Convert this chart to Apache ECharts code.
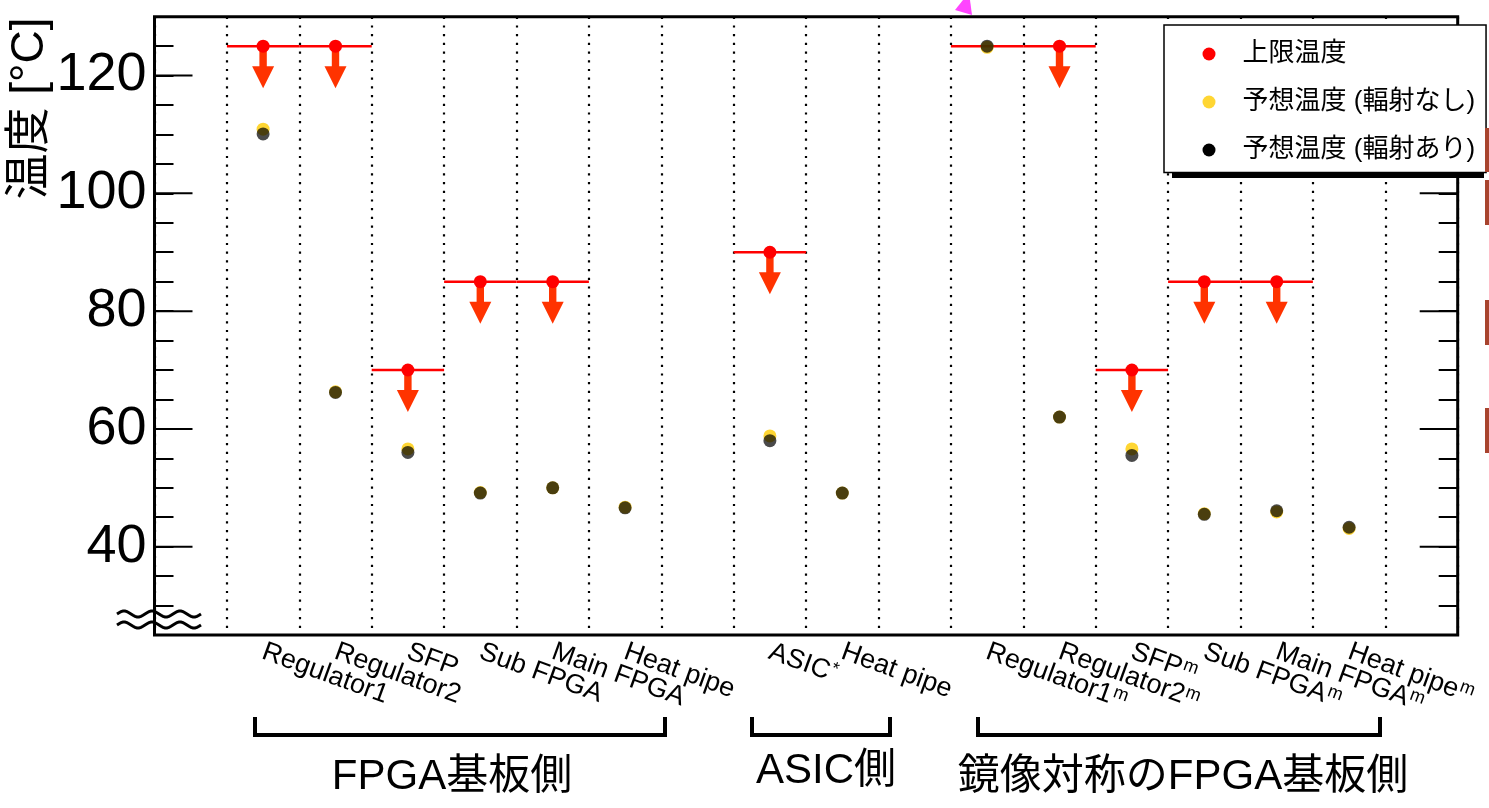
<!DOCTYPE html>
<html>
<head>
<meta charset="utf-8">
<script src="https://cdn.jsdelivr.net/npm/echarts@6/dist/echarts.min.js"></script>
<style>
html,body{margin:0;padding:0;background:#fff;}
#chart{width:1489px;height:808px;}
</style>
</head>
<body>
<div id="chart"></div>
<script>
// ---------------- data ----------------
const categories = ['', 'Regulator1', 'Regulator2', 'SFP', 'Sub FPGA', 'Main FPGA', 'Heat pipe', '',
  'ASIC', 'Heat pipe', '',
  'Regulator1', 'Regulator2', 'SFP', 'Sub FPGA', 'Main FPGA', 'Heat pipe', ''];
const superscripts = ['', '', '', '', '', '', '', '', '*', '', '', 'm', 'm', 'm', 'm', 'm', 'm', ''];
const limitSlots = [1, 2, 3, 4, 5, 8, 11, 12, 13, 14, 15];
const limitValues = [125, 125, 70, 85, 85, 90, 125, 125, 70, 85, 85];
const limitArrow = [1, 1, 1, 1, 1, 1, 0, 1, 1, 1, 1];
const noRadiationValues = [null, 110.9, 66.3, 56.6, 49.2, 50.0, 46.7, null, 58.8, 49.1, null, 124.8, 62.0, 56.6, 45.6, 45.9, 43.1, null];
const radiationValues = [null, 110.1, 66.2, 56.0, 49.1, 50.0, 46.6, null, 58.0, 49.1, null, 125.0, 62.0, 55.5, 45.5, 46.1, 43.3, null];
const yMajorTicks = [40, 60, 80, 100, 120];
const seriesNames = ['上限温度', '予想温度 (輻射なし)', '予想温度 (輻射あり)'];
const groupLabels = ['FPGA基板側', 'ASIC側', '鏡像対称のFPGA基板側'];
const yTitle = '温度 [°C]';

// ---------------- chart ----------------
const FONT = '"Liberation Sans", "Noto Sans CJK JP", sans-serif';
const chart = echarts.init(document.getElementById('chart'), null, {renderer: 'canvas'});

function toSeries(arr) { return arr.map(v => (v === null ? '-' : v)); }

function wave(x0, y0) {
  const pts = [];
  for (let k = 0; k <= 84; k += 2) {
    pts.push([x0 + k, y0 - 3 * Math.sin(k / 28 * 2 * Math.PI)]);
  }
  return pts;
}

const option = {
  animation: false,
  backgroundColor: '#fff',
  grid: {left: 154.5, top: 16.7, right: 31.3, bottom: 173, show: true, borderColor: '#000', borderWidth: 3, backgroundColor: 'transparent'},
  xAxis: {
    type: 'category',
    data: categories.map((c, i) => String(i)),
    boundaryGap: true,
    axisLine: {show: false},
    axisTick: {show: false},
    splitLine: {show: true, interval: 0, lineStyle: {color: '#000', width: 2.2, type: [2.2, 6.5]}},
    axisLabel: {
      interval: 0,
      rotate: -20,
      margin: 16,
      color: '#000',
      formatter: function (v) {
        const i = Number(v);
        const name = categories[i];
        if (!name) return '';
        const sup = superscripts[i];
        return '{n|' + name + '}' + (sup ? '{s|' + sup + '}' : '');
      },
      rich: {
        n: {fontSize: 27, fontFamily: FONT, color: '#000'},
        s: {fontSize: 18, fontFamily: FONT, color: '#000', verticalAlign: 'top', padding: [0, 0, 10, 1]}
      }
    }
  },
  yAxis: [{
    type: 'value', min: 25, max: 130, interval: 5, position: 'left',
    axisLine: {show: false},
    splitLine: {show: false},
    axisTick: {show: true, inside: true, length: 19, lineStyle: {color: '#000', width: 2}},
    axisLabel: {
      color: '#000', fontSize: 54, fontFamily: FONT, margin: 8,
      formatter: v => (yMajorTicks.indexOf(v) >= 0 ? String(v) : '')
    }
  }, {
    type: 'value', min: 25, max: 130, interval: 5, position: 'right',
    axisLine: {show: false},
    splitLine: {show: false},
    axisTick: {show: true, inside: true, length: 19, lineStyle: {color: '#000', width: 2}},
    axisLabel: {show: false}
  }],
  legend: {
    orient: 'vertical',
    left: 1164, top: 25,
    padding: [16, 11, 9.5, 38.5],
    itemGap: 22,
    itemWidth: 13, itemHeight: 13,
    backgroundColor: '#fff',
    borderColor: '#000', borderWidth: 1.5,
    textStyle: {fontSize: 26, lineHeight: 25, fontFamily: FONT, color: '#000', padding: [0, 0, 0, 22]},
    data: [
      {name: seriesNames[0], icon: 'circle', itemStyle: {color: '#ff0000'}},
      {name: seriesNames[1], icon: 'circle', itemStyle: {color: '#ffcc00'}},
      {name: seriesNames[2], icon: 'circle', itemStyle: {color: '#000', opacity: 1}}
    ],
    z: 20
  },
  series: [
    {
      name: seriesNames[0],
      type: 'custom',
      itemStyle: {color: '#ff0000'},
      encode: {x: 0, y: 1},
      data: limitSlots.map((s, i) => [s, limitValues[i], limitArrow[i]]),
      z: 3,
      renderItem: function (params, api) {
        const p = api.coord([api.value(0), api.value(1)]);
        const w = api.size([1, 0])[0];
        const children = [{
          type: 'line',
          shape: {x1: p[0] - w / 2, y1: p[1], x2: p[0] + w / 2, y2: p[1]},
          style: {stroke: '#ff0000', lineWidth: 2.5}
        }];
        if (api.value(2)) {
          children.push({type: 'rect', shape: {x: p[0] - 3.7, y: p[1], width: 7.4, height: 21}, style: {fill: '#ff3300'}});
          children.push({type: 'polygon', shape: {points: [[p[0] - 11, p[1] + 20], [p[0] + 11, p[1] + 20], [p[0], p[1] + 42]]}, style: {fill: '#ff3300'}});
          children.push({type: 'circle', shape: {cx: p[0], cy: p[1], r: 6.5}, style: {fill: '#ff0000'}});
        }
        return {type: 'group', children: children};
      }
    },
    {
      name: 'majorTicks',
      type: 'custom',
      encode: {x: 0, y: 1},
      data: yMajorTicks.map(v => [0, v]),
      z: 4,
      silent: true,
      renderItem: function (params, api) {
        const cs = params.coordSys;
        const y = api.coord([0, api.value(1)])[1];
        return {type: 'group', children: [
          {type: 'line', shape: {x1: cs.x, y1: y, x2: cs.x + 38, y2: y}, style: {stroke: '#000', lineWidth: 2}},
          {type: 'line', shape: {x1: cs.x + cs.width - 38, y1: y, x2: cs.x + cs.width, y2: y}, style: {stroke: '#000', lineWidth: 2}}
        ]};
      }
    },
    {
      name: seriesNames[1],
      type: 'scatter',
      symbol: 'circle',
      symbolSize: 13,
      itemStyle: {color: '#ffcc00'},
      data: toSeries(noRadiationValues),
      z: 5
    },
    {
      name: seriesNames[2],
      type: 'scatter',
      symbol: 'circle',
      symbolSize: 13,
      itemStyle: {color: '#000', opacity: 0.71},
      data: toSeries(radiationValues),
      z: 6
    }
  ],
  graphic: [
    {type: 'text', x: 30, y: 108.5, rotation: Math.PI / 2,
      style: {text: yTitle, fontSize: 46, fontFamily: FONT, fill: '#000', align: 'center', verticalAlign: 'middle'}},
    {type: 'polyline', shape: {points: wave(117, 614)}, style: {stroke: '#000', lineWidth: 3, fill: null}},
    {type: 'polyline', shape: {points: wave(117, 625)}, style: {stroke: '#000', lineWidth: 3, fill: null}},
    {type: 'polyline', shape: {points: [[255, 717], [255, 735], [665, 735], [665, 717]]}, style: {stroke: '#000', lineWidth: 4, fill: null}},
    {type: 'polyline', shape: {points: [[752, 717], [752, 735], [890, 735], [890, 717]]}, style: {stroke: '#000', lineWidth: 4, fill: null}},
    {type: 'polyline', shape: {points: [[978, 717], [978, 735], [1380, 735], [1380, 717]]}, style: {stroke: '#000', lineWidth: 4, fill: null}},
    {type: 'text', x: 452, y: 777, style: {text: groupLabels[0], fontSize: 42, fontFamily: FONT, fill: '#000', align: 'center', verticalAlign: 'middle'}},
    {type: 'text', x: 826, y: 771, style: {text: groupLabels[1], fontSize: 42, fontFamily: FONT, fill: '#000', align: 'center', verticalAlign: 'middle'}},
    {type: 'text', x: 1183, y: 777, style: {text: groupLabels[2], fontSize: 42, fontFamily: FONT, fill: '#000', align: 'center', verticalAlign: 'middle'}},
    // legend drop shadow (only the bottom edge shows)
    {type: 'rect', z: 10, shape: {x: 1172, y: 31, width: 312, height: 147}, style: {fill: '#000'}},
    {type: 'polygon', shape: {points: [[963, 0], [955, 10], [972, 15], [970, 0]]}, style: {fill: '#ff44ff'}},
    {type: 'rect', z: 30, shape: {x: 1485, y: 128, width: 4, height: 44}, style: {fill: '#a8442e'}},
    {type: 'rect', z: 30, shape: {x: 1485, y: 180, width: 4, height: 45}, style: {fill: '#a8442e'}},
    {type: 'rect', shape: {x: 1485, y: 300, width: 4, height: 45}, style: {fill: '#a8442e'}},
    {type: 'rect', shape: {x: 1485, y: 408, width: 4, height: 45}, style: {fill: '#a8442e'}}
  ]
};
chart.setOption(option);
</script>
</body>
</html>
